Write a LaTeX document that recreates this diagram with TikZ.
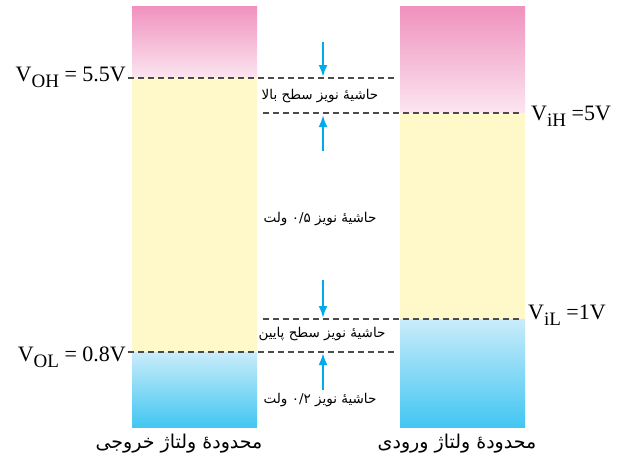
\documentclass[tikz,border=0pt]{standalone}
\usepackage{fontspec}
\setmainfont{Liberation Serif}
\newfontfamily\farsi[Script=Arabic]{DejaVu Sans}
\TeXXeTstate=1
\usetikzlibrary{arrows.meta,positioning}
\definecolor{PinkTop}{RGB}{240,145,190}
\definecolor{PinkLow}{RGB}{251,230,240}
\definecolor{BandYellow}{RGB}{255,249,202}
\definecolor{BlueTop}{RGB}{202,236,250}
\definecolor{BlueLow}{RGB}{66,198,242}
\definecolor{ArrowCyan}{RGB}{0,170,235}
\definecolor{DashGray}{RGB}{75,75,75}
\newcommand{\lsub}[1]{\raisebox{-0.3em}{\fontsize{19}{19}\selectfont #1}}
\tikzset{
  level/.style={draw=DashGray, line width=1.1pt, dash pattern=on 6pt off 4pt},
  margarrow/.style={-{Latex[length=12pt,width=9pt]}, line width=2.2pt, ArrowCyan},
  vlabel/.style={font=\fontsize{22}{24}\selectfont, inner sep=0pt},
  note/.style={font=\farsi\fontsize{13.5}{15}\selectfont, inner sep=0pt},
  rangename/.style={font=\farsi\fontsize{19}{22}\selectfont, inner sep=0pt},
}
\begin{document}
\begin{tikzpicture}[x=1pt, y=-1pt]
  \useasboundingbox (0,0) rectangle (618,459);
  % output range
  \shade[top color=PinkTop, bottom color=PinkLow] (132,6) rectangle (257,78);
  \fill[BandYellow] (132,78) rectangle (257,352);
  \shade[top color=BlueTop, bottom color=BlueLow] (132,352) rectangle (257,427);
  % input range
  \shade[top color=PinkTop, bottom color=PinkLow] (400,6) rectangle (525,113);
  \fill[BandYellow] (400,113) rectangle (525,319);
  \shade[top color=BlueTop, bottom color=BlueLow] (400,319) rectangle (525,427);
  % levels
  \coordinate (ohA) at (128,78);  \coordinate (ohB) at (396,78);
  \coordinate (ihA) at (263,113); \coordinate (ihB) at (521,113);
  \coordinate (ilA) at (263,319); \coordinate (ilB) at (521,319);
  \coordinate (olA) at (128,352); \coordinate (olB) at (396,352);
  \foreach \a/\b in {ohA/ohB, ihA/ihB, ilA/ilB, olA/olB}
    \draw[level] (\a) -- (\b);
  % margin arrows
  \coordinate (hiTop) at (323,42);  \coordinate (hiTip) at (323,77);
  \coordinate (hiBot) at (323,151); \coordinate (hiUp) at (323,115);
  \coordinate (loTop) at (323,280); \coordinate (loTip) at (323,318);
  \coordinate (loBot) at (323,390); \coordinate (loUp) at (323,353);
  \foreach \a/\b in {hiTop/hiTip, hiBot/hiUp, loTop/loTip, loBot/loUp}
    \draw[margarrow] (\a) -- (\b);
  % labels
  \node[vlabel, anchor=base east] (voh) at (126,81) {V\lsub{OH} = 5.5V};
  \node[vlabel, anchor=base east] (vol) at (126,361) {V\lsub{OL} = 0.8V};
  \node[vlabel, anchor=base west] (vih) at (531,120) {V\lsub{iH} =5V};
  \node[vlabel, anchor=base west] (vil) at (528,319) {V\lsub{iL} =1V};
  \node[note] (hiNote) at (320,96) {\beginR حاشیهٔ نویز سطح بالا\endR};
  \node[note] (midNote) at (320,219) {\beginR حاشیهٔ نویز \beginL ۰/۵\endL{} ولت\endR};
  \node[note] (loNote) at (322,334) {\beginR حاشیهٔ نویز سطح پایین\endR};
  \node[note] (btNote) at (320,400) {\beginR حاشیهٔ نویز \beginL ۰/۲\endL{} ولت\endR};
  \node[rangename] (outName) at (179,444) {\beginR محدودهٔ ولتاژ خروجی\endR};
  \node[rangename] (inName) at (457,444) {\beginR محدودهٔ ولتاژ ورودی\endR};
\end{tikzpicture}
\end{document}
